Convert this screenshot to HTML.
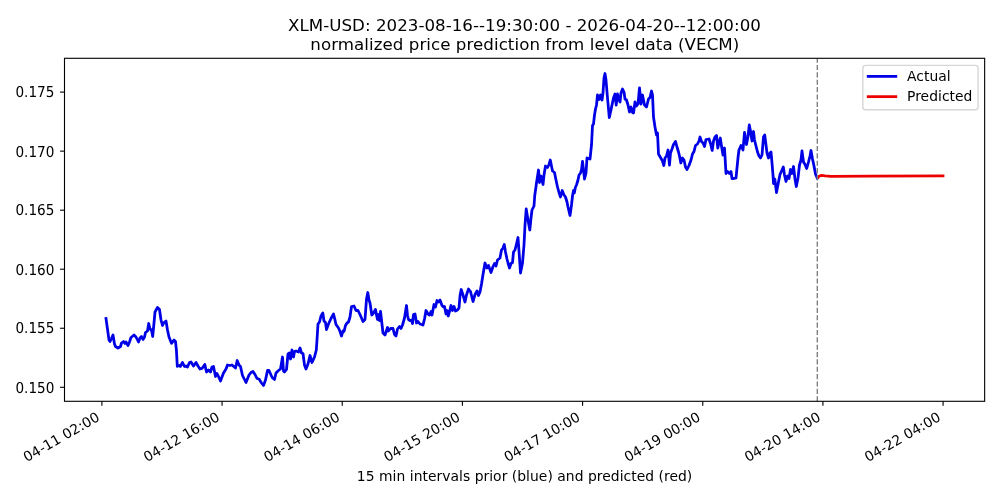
<!DOCTYPE html>
<html lang="en"><head><meta charset="utf-8"><title>XLM-USD VECM prediction</title>
<style>
html,body{margin:0;padding:0;background:#fff;}
body{width:1000px;height:500px;overflow:hidden;}
svg{display:block;will-change:transform;}
svg text{font-family:"DejaVu Sans", "Liberation Sans", sans-serif;fill:#000;}
.txt{filter:grayscale(1);}
.t10{font-size:13.889px;letter-spacing:0.035px;}
.t10n{font-size:13.889px;text-rendering:geometricPrecision;}
.t12{font-size:16.667px;letter-spacing:0.026px;}
</style></head><body>
<svg width="1000" height="500" viewBox="0 0 1000 500">
<rect x="0" y="0" width="1000" height="500" fill="#fff"/>
<defs><clipPath id="ax"><rect x="64.5" y="58.3" width="920.15" height="343.00"/></clipPath></defs>
<g clip-path="url(#ax)">
<polyline points="106.0,318.5 109.0,340.0 110.0,341.5 111.5,338.5 113.0,335.0 114.5,344.0 115.5,346.5 118.0,348.0 120.5,346.5 121.5,343.0 123.5,341.5 125.0,343.5 126.0,342.0 128.0,345.5 129.5,342.0 131.0,337.5 134.0,335.0 136.0,337.0 138.5,342.0 140.0,338.0 141.5,336.5 143.0,339.5 144.5,337.0 145.5,332.5 147.5,331.0 148.7,323.5 150.0,329.0 151.5,330.0 152.7,336.5 154.0,323.0 155.0,312.0 157.5,307.5 159.5,309.5 161.0,320.0 162.5,325.5 164.0,322.5 166.0,321.0 167.5,330.0 169.0,337.0 171.5,343.3 174.0,340.0 175.5,341.5 176.4,350.0 177.3,366.3 179.5,365.5 180.3,366.5 182.5,362.5 184.5,366.5 186.0,366.0 187.5,367.0 189.5,362.5 191.0,362.0 193.5,366.0 196.0,362.5 198.0,366.0 200.0,369.0 202.0,368.5 204.8,364.5 206.5,372.0 208.5,370.0 210.5,372.0 212.0,367.0 213.5,366.5 215.5,376.5 217.0,373.5 218.5,376.5 220.5,381.0 223.5,373.0 226.0,369.0 227.5,365.0 230.0,365.5 232.0,365.0 235.5,368.0 237.2,360.5 239.0,365.0 240.5,366.5 242.5,375.5 246.0,382.5 249.0,375.0 251.0,372.5 253.0,371.5 255.0,374.5 257.0,378.5 259.0,379.0 261.5,383.0 263.5,385.5 265.5,380.0 267.5,370.5 269.0,370.5 271.0,375.0 272.5,378.0 274.5,379.5 276.0,373.0 278.5,370.5 280.5,369.0 282.5,357.0 283.5,371.0 284.5,372.0 286.5,369.5 288.0,354.0 289.5,353.0 290.5,359.0 292.0,350.0 293.5,357.0 294.5,351.5 296.0,351.0 298.5,352.0 300.0,348.0 301.5,353.0 303.0,353.5 304.5,365.0 306.0,369.0 308.0,364.0 310.0,355.5 312.0,362.5 314.5,357.0 316.3,350.0 317.0,340.0 318.0,324.0 319.5,322.0 321.0,316.0 322.8,313.0 324.0,321.0 325.5,322.5 326.5,329.5 328.5,324.0 331.0,318.5 333.5,314.0 335.0,320.0 336.0,324.5 338.5,328.0 340.0,331.5 341.5,336.0 343.0,331.0 344.0,331.5 345.5,325.5 347.0,323.0 348.5,322.0 350.0,317.0 351.5,306.5 354.0,306.0 356.0,310.5 358.0,310.5 360.0,314.5 363.0,321.5 365.0,319.5 366.5,299.0 367.8,292.5 369.0,300.0 370.0,303.0 371.8,315.0 373.5,313.0 375.5,309.5 376.5,315.0 377.5,319.5 378.5,314.5 379.5,320.5 380.5,311.5 381.5,320.0 383.0,333.0 385.0,335.0 387.5,327.5 388.5,331.0 390.5,328.5 393.0,328.5 394.5,334.5 396.0,336.0 397.5,329.0 399.5,326.5 401.0,328.5 402.5,325.0 404.5,318.0 406.5,305.5 407.5,315.5 408.5,319.5 410.0,320.5 411.5,320.0 412.5,323.5 413.5,314.5 415.0,314.0 416.5,323.0 418.0,321.5 420.0,324.0 423.0,325.0 424.5,319.0 426.0,310.5 428.0,314.0 429.5,315.0 431.0,311.5 432.0,315.0 434.0,304.5 435.5,307.0 437.0,300.5 438.5,302.0 440.0,300.0 442.0,305.5 443.5,307.0 444.5,306.5 446.0,314.0 447.0,310.5 448.2,316.0 449.5,311.5 451.0,305.5 452.5,310.5 454.0,306.5 455.5,311.0 457.5,310.0 459.0,308.0 460.0,296.0 461.2,289.5 463.0,295.0 465.0,302.0 466.5,295.0 468.5,289.0 470.5,291.5 473.0,301.5 475.0,294.5 477.0,291.0 478.5,295.5 480.0,292.0 481.5,284.0 483.0,274.5 485.0,263.0 487.0,268.0 488.5,265.5 491.0,272.5 493.0,266.5 494.5,263.5 496.0,266.0 497.5,260.0 500.0,258.0 501.5,250.0 503.0,248.0 504.3,244.5 505.5,252.0 507.0,259.0 508.0,263.0 509.5,268.0 511.0,263.5 512.5,262.5 513.5,252.0 515.0,250.0 516.5,244.0 518.0,237.5 519.0,251.0 520.5,273.0 522.5,263.0 524.0,245.0 525.0,225.0 526.2,209.0 528.0,220.0 529.8,230.0 531.0,218.0 532.0,210.0 534.0,206.0 534.7,196.0 536.5,183.0 537.5,176.5 538.5,170.0 539.5,182.5 541.0,176.0 543.0,184.5 544.0,175.0 545.5,166.0 547.5,167.5 549.0,164.5 550.3,160.0 551.5,166.0 552.5,171.0 554.5,172.5 556.0,180.0 557.5,187.0 559.0,192.5 560.5,197.0 562.2,190.5 564.0,195.0 565.5,197.0 567.0,202.0 568.0,207.0 570.0,215.5 571.5,205.0 572.5,196.0 573.5,190.5 574.3,193.0 575.5,187.0 576.5,185.0 578.0,180.0 579.0,175.0 580.5,173.0 581.5,170.0 582.5,161.5 583.5,170.0 584.5,179.0 586.0,173.0 587.0,158.0 590.0,159.0 591.5,145.0 592.5,125.5 593.5,124.0 594.5,115.0 595.5,109.0 596.5,105.0 597.5,95.0 599.0,99.5 600.5,95.0 602.0,100.0 603.0,93.0 604.0,78.0 605.0,73.5 606.0,80.0 607.5,98.0 609.3,117.5 611.0,110.0 612.0,105.0 613.5,98.0 615.0,94.0 616.2,105.0 617.5,94.0 619.0,100.0 620.0,102.0 621.0,93.0 622.5,89.0 624.0,92.0 625.0,99.0 626.5,100.0 628.0,105.0 629.5,112.0 631.0,107.0 632.5,112.5 633.5,113.0 635.0,102.0 636.5,106.0 638.0,104.0 639.5,88.0 641.0,104.0 642.5,95.0 644.5,105.0 646.5,107.0 648.5,99.0 650.0,97.5 651.5,91.0 652.5,95.0 653.5,117.0 655.0,127.0 656.5,135.0 657.5,133.0 658.5,154.0 660.5,157.5 662.5,161.0 663.8,165.5 665.0,158.0 666.5,156.0 668.0,150.0 669.5,165.0 670.5,153.0 672.0,149.0 673.5,144.5 675.5,141.5 677.0,147.0 678.5,152.0 679.5,156.0 680.8,163.0 682.5,158.0 684.0,160.0 685.5,167.0 687.0,169.5 689.0,165.5 691.0,160.0 692.5,154.0 694.0,151.5 695.5,145.5 697.5,144.0 699.0,141.0 700.0,137.0 701.5,141.5 703.0,143.0 704.5,146.5 706.0,139.5 709.0,139.0 710.5,143.5 712.2,150.5 713.5,141.0 715.0,137.0 716.5,135.5 717.8,148.0 719.0,143.0 720.3,138.0 721.5,146.0 723.0,155.0 724.5,148.0 725.5,165.0 726.0,173.5 727.5,171.5 729.5,173.5 731.0,171.5 732.0,178.5 734.0,178.5 736.0,178.0 737.3,165.0 738.2,156.0 739.0,150.0 741.0,145.5 743.0,150.0 744.5,132.5 746.5,144.5 748.0,136.5 749.3,125.0 750.5,131.0 752.0,141.0 753.5,131.5 754.5,140.0 756.0,146.0 757.5,152.0 759.0,156.0 760.5,158.0 762.0,155.0 763.5,137.0 764.7,135.0 766.0,145.0 767.0,153.0 768.5,158.0 770.0,153.0 771.0,152.0 772.0,163.0 773.0,175.0 773.5,183.5 774.8,179.0 776.5,192.5 778.5,182.0 780.0,174.5 782.0,170.0 783.3,167.0 784.5,175.0 786.0,181.5 787.5,176.0 789.0,178.5 790.5,169.5 792.0,173.5 793.5,166.5 795.0,179.0 796.3,186.5 798.0,178.0 799.5,165.0 801.0,160.0 802.0,151.0 803.5,162.0 805.0,164.5 806.7,168.5 808.5,162.0 810.0,156.0 811.0,150.5 812.5,159.0 814.0,166.0 815.5,174.0 817.3,178.3" fill="none" stroke="#0000e6" stroke-width="2.78" stroke-linejoin="round" stroke-linecap="square"/>
<polyline points="817.6,178.2 819.0,176.2 821.5,175.4 825.0,175.9 831.0,176.4 870.0,176.1 944.4,175.8" fill="none" stroke="#ec0000" stroke-width="2.78" stroke-linejoin="round" stroke-linecap="butt"/>
<line x1="817.3" y1="401.3" x2="817.3" y2="58.3" stroke="#808080" stroke-width="1.39" stroke-dasharray="5.14,2.22"/>
</g>
<g stroke="#000" stroke-width="1.11" fill="none">
<line x1="101.90" y1="401.3" x2="101.90" y2="405.70"/>
<line x1="222.07" y1="401.3" x2="222.07" y2="405.70"/>
<line x1="342.24" y1="401.3" x2="342.24" y2="405.70"/>
<line x1="462.41" y1="401.3" x2="462.41" y2="405.70"/>
<line x1="582.58" y1="401.3" x2="582.58" y2="405.70"/>
<line x1="702.75" y1="401.3" x2="702.75" y2="405.70"/>
<line x1="822.92" y1="401.3" x2="822.92" y2="405.70"/>
<line x1="943.09" y1="401.3" x2="943.09" y2="405.70"/>
<line x1="64.5" y1="387.30" x2="60.10" y2="387.30"/>
<line x1="64.5" y1="328.26" x2="60.10" y2="328.26"/>
<line x1="64.5" y1="269.22" x2="60.10" y2="269.22"/>
<line x1="64.5" y1="210.18" x2="60.10" y2="210.18"/>
<line x1="64.5" y1="151.14" x2="60.10" y2="151.14"/>
<line x1="64.5" y1="92.10" x2="60.10" y2="92.10"/>
<rect x="64.5" y="58.3" width="920.15" height="343.00"/>
</g>
<g class="txt">
<text class="t10" transform="translate(26.86 462.33) rotate(-30)">04-11 02:00</text>
<text class="t10" transform="translate(147.03 462.33) rotate(-30)">04-12 16:00</text>
<text class="t10" transform="translate(267.20 462.33) rotate(-30)">04-14 06:00</text>
<text class="t10" transform="translate(387.37 462.33) rotate(-30)">04-15 20:00</text>
<text class="t10" transform="translate(507.54 462.33) rotate(-30)">04-17 10:00</text>
<text class="t10" transform="translate(627.71 462.33) rotate(-30)">04-19 00:00</text>
<text class="t10" transform="translate(747.88 462.33) rotate(-30)">04-20 14:00</text>
<text class="t10" transform="translate(868.05 462.33) rotate(-30)">04-22 04:00</text>
<text class="t10n" transform="translate(54.35 393) scale(0.98 1.08)" text-anchor="end">0.150</text>
<text class="t10n" transform="translate(54.35 333) scale(0.98 1.08)" text-anchor="end">0.155</text>
<text class="t10n" transform="translate(54.35 275) scale(0.98 1.08)" text-anchor="end">0.160</text>
<text class="t10n" transform="translate(54.35 215) scale(0.98 1.08)" text-anchor="end">0.165</text>
<text class="t10n" transform="translate(54.35 157) scale(0.98 1.08)" text-anchor="end">0.170</text>
<text class="t10n" transform="translate(54.35 97) scale(0.98 1.08)" text-anchor="end">0.175</text>
<text class="t10" x="524.57" y="481.30" text-anchor="middle">15 min intervals prior (blue) and predicted (red)</text>
<text class="t12" x="524.5" y="31.3" text-anchor="middle">XLM-USD: 2023-08-16--19:30:00 - 2026-04-20--12:00:00</text>
<text class="t12" x="524.8" y="50.0" text-anchor="middle" style="letter-spacing:0.058px">normalized price prediction from level data (VECM)</text>
</g>
<rect x="862.86" y="65.4" width="115.2" height="44.3" rx="2.78" ry="2.78" fill="#fff" fill-opacity="0.8" stroke="#ccc" stroke-opacity="0.8" stroke-width="1.39"/>
<line x1="868.2" y1="76.40" x2="895.8" y2="76.40" stroke="#0000e6" stroke-width="2.78" stroke-linecap="square"/>
<line x1="868.2" y1="96.65" x2="895.8" y2="96.65" stroke="#ec0000" stroke-width="2.78" stroke-linecap="square"/>
<g class="txt"><text class="t10" x="907.0" y="81.19">Actual</text>
<text class="t10" x="907.0" y="101.3">Predicted</text></g>
</svg></body></html>
